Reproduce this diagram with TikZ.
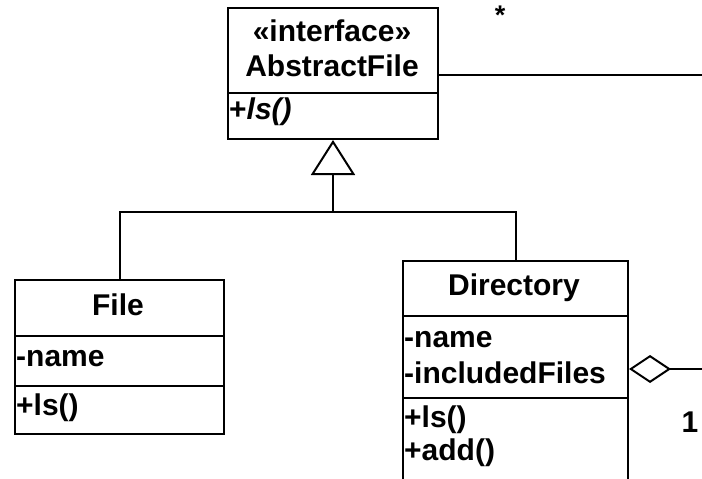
\documentclass[tikz,border=0pt]{standalone}
\usepackage{fontspec}
\setmainfont{Liberation Sans}
\usetikzlibrary{arrows.meta,positioning}
\tikzset{
    compart/.style={draw,line width=2pt,rectangle,inner sep=0pt,anchor=north west},
    member/.style={font=\fontsize{30}{34}\selectfont\bfseries,inner sep=0pt,anchor=base west},
    title/.style={font=\fontsize{30}{34}\selectfont\bfseries,inner sep=0pt,anchor=base},
    link/.style={line width=2pt},
}
% one compartment of a class box: corner, width, height, name
\newcommand{\compartment}[4]{
    \node[compart,minimum width=#2pt,minimum height=#3pt] (#4) at (#1) {};
}

\begin{document}
\begin{tikzpicture}[x=1pt,y=-1pt,line cap=butt,line join=miter]
                \useasboundingbox (0,0) rectangle (702,479);
                \clip (0,0) rectangle (702,479);

                \compartment{227,7}{210}{85}{afHead}
                \compartment{227,92}{210}{46}{afOps}
                \compartment{14,279}{209}{56}{fileHead}
                \compartment{14,335}{209}{50}{fileAttr}
                \compartment{14,385}{209}{48}{fileOps}
                \compartment{402,260}{225}{55}{dirHead}
                \compartment{402,315}{225}{82}{dirAttr}
                \compartment{402,397}{225}{110}{dirOps}

                \node[title] (afStereo) at (332,41) {«interface»};
                \node[title] (afName) at (332,76) {AbstractFile};
                \node[member] (afLs) at (229,119) {+\itshape ls()};
                \node[title] (fileName) at (118,315) {File};
                \node[member] (fileNm) at (16,366) {-name};
                \node[member] (fileLs) at (16,415) {+ls()};
                \node[title] (dirName) at (514,295) {Directory};
                \node[member] (dirNm) at (404,347) {-name};
                \node[member] (dirFiles) at (404,383) {-includedFiles};
                \node[member] (dirLs) at (404,427) {+ls()};
                \node[member] (dirAdd) at (404,460) {+add()};

                % generalization
                \coordinate (fork) at (afOps.south |- 0,212);
                \draw[link] (fileHead.north) -- (fileHead.north |- fork) -- (dirHead.north |- fork) -- (dirHead.north);
                \draw[link,-{Triangle[open,length=35pt,width=44pt,line width=2pt]}] (fork) -- (afOps.south);

                % aggregation
                \coordinate (aggStart) at (dirAttr.east |- 0,369);
                \coordinate (aggEnd) at (720,369);
                \draw[link,{Diamond[open,length=42pt,width=28pt,line width=2pt]}-] (aggStart) -- (aggEnd);
                \coordinate (assocStart) at (afHead.east |- 0,75);
                \coordinate (assocEnd) at (720,75);
                \draw[link] (assocStart) -- (assocEnd);
                \node[font=\fontsize{27}{30}\selectfont\bfseries,inner sep=0pt] (manyLbl) at (500,15) {*};
                \node[title] (oneLbl) at (690,432) {1};
            \end{tikzpicture}
\end{document}
